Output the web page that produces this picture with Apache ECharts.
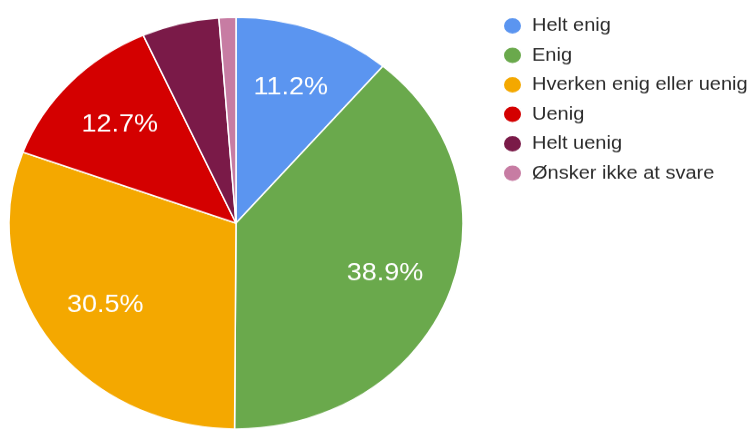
<!DOCTYPE html>
<html>
<head>
<meta charset="utf-8">
<script src="https://cdn.jsdelivr.net/npm/echarts@6/dist/echarts.min.js"></script>
<style>
html,body{margin:0;padding:0;background:#fff;overflow:hidden;width:749px;height:429px;}
#wrap{width:749px;height:473px;transform:scaleY(0.907);transform-origin:0 0;}
</style>
</head>
<body>
<div id="wrap"></div>
<script>
const categories = ['Helt enig', 'Enig', 'Hverken enig eller uenig', 'Uenig', 'Helt uenig', 'Ønsker ikke at svare'];
const values = [11.2, 38.9, 30.5, 12.7, 5.5, 1.2];
const colors = ['#5b95f0', '#6aa94c', '#f4a800', '#d40000', '#7a1a48', '#c77ca3'];

const chart = echarts.init(document.getElementById('wrap'), null, {renderer: 'canvas'});
const data = categories.map((n, i) => ({name: n, value: values[i]}));
chart.setOption({
  animation: false,
  color: colors,
  legend: {
    orient: 'vertical',
    left: 497,
    top: 13,
    itemWidth: 19,
    itemHeight: 19,
    itemGap: 11.5,
    icon: 'circle',
    data: categories,
    textStyle: {fontSize: 20, color: '#2b2b2b', fontFamily: 'Liberation Sans, Arial, sans-serif', padding: [0, 0, 0, 5]}
  },
  series: [
    {
      type: 'pie',
      center: [236, 246],
      radius: [0, 227],
      startAngle: 90,
      data: data,
      itemStyle: {borderColor: '#ffffff', borderWidth: 1.5},
      label: {show: false},
      labelLine: {show: false},
      emphasis: {disabled: true}
    },
    {
      type: 'pie',
      center: [236, 246],
      radius: [90, 222],
      startAngle: 90,
      silent: true,
      data: data,
      itemStyle: {color: 'rgba(0,0,0,0)', borderWidth: 0},
      label: {
        show: true,
        position: 'inside',
        color: '#ffffff',
        fontSize: 27,
        fontFamily: 'Liberation Sans, Arial, sans-serif',
        formatter: p => p.value >= 10 ? p.value.toFixed(1) + '%' : ''
      },
      labelLine: {show: false},
      emphasis: {disabled: true}
    }
  ]
});
</script>
</body>
</html>
